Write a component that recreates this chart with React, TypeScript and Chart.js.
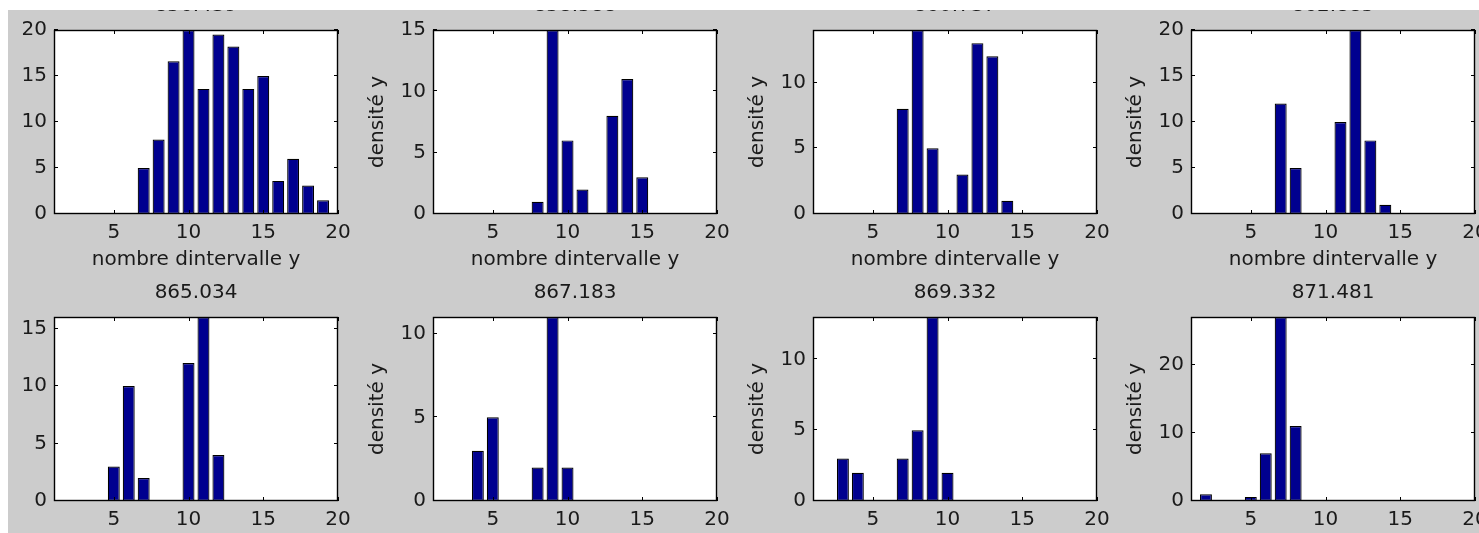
import React, { useEffect, useRef } from 'react';
import { Chart, registerables } from 'chart.js';

Chart.register(...registerables);

// ---------- data ----------
const binCenters = [1, 2, 3, 4, 5, 6, 7, 8, 9, 10, 11, 12, 13, 14, 15, 16, 17, 18, 19, 20];

const panelTitles = ['856.439', '858.588', '860.737', '862.885', '865.034', '867.183', '869.332', '871.481'];

const dens856 = [null, null, null, null, null, null, 5, 8.1, 16.6, 20, 13.6, 19.5, 18.2, 13.6, 15, 3.6, 6, 3.1, 1.5, null];
const dens858 = [null, null, null, null, null, null, null, 1, 15, 6, 2, null, 8, 11, 3, null, null, null, null, null];
const dens860 = [null, null, null, null, null, null, 8, 14, 5, null, 3, 13, 12, 1, null, null, null, null, null, null];
const dens862 = [null, null, null, null, null, null, 12, 5, null, null, 10, 20, 8, 1, null, null, null, null, null, null];
const dens865 = [null, null, null, null, 3, 10, 2, null, null, 12, 16, 4, null, null, null, null, null, null, null, null];
const dens867 = [null, null, null, 3, 5, null, null, 2, 11, 2, null, null, null, null, null, null, null, null, null, null];
const dens869 = [null, null, 3, 2, null, null, 3, 5, 13, 2, null, null, null, null, null, null, null, null, null, null];
const dens871 = [null, 1, null, null, 0.6, 7, 27, 11, null, null, null, null, null, null, null, null, null, null, null, null];

const panelValues = [dens856, dens858, dens860, dens862, dens865, dens867, dens869, dens871];

const yMaxes = [20, 15, 14, 20, 16, 11, 13, 27];
const yTickValues = [
  [0, 5, 10, 15, 20],
  [0, 5, 10, 15],
  [0, 5, 10],
  [0, 5, 10, 15, 20],
  [0, 5, 10, 15],
  [0, 5, 10],
  [0, 5, 10],
  [0, 10, 20],
];
const xTickValues = [5, 10, 15, 20];
const xMin = 1;
const xMax = 20;

const xLabel = 'nombre dintervalle y';
const yLabel = 'densité y';

// ---------- layout / style ----------
const FIG_BG = '#cccccc';
const BAR_FILL = '#00008f';
const TEXT = '#1a1a1a';
const FONT_FAMILY = "'DejaVu Sans', 'Liberation Sans', Arial, sans-serif";
const FONT_SIZE = 20;

const PLOT_W = 284;
const PLOT_H = 184;
const AXIS_Y_W = 75;
const AXIS_X_H = 65;
const TITLE_H = 40;
const RIGHT_PAD = 20;
const COL_LEFT = [46, 425, 805, 1183];
const ROW_TOP = [20, 307];
const CANVAS_W = AXIS_Y_W + PLOT_W + RIGHT_PAD;
const CANVAS_H = TITLE_H + PLOT_H + AXIS_X_H;

const framePlugin = {
  id: 'matlabFrame',
  beforeDraw(chart: any) {
    const { ctx, chartArea: a } = chart;
    ctx.save();
    ctx.fillStyle = '#ffffff';
    ctx.fillRect(a.left, a.top, a.right - a.left, a.bottom - a.top);
    ctx.restore();
  },
  afterDatasetsDraw(chart: any) {
    const { ctx, chartArea: a, scales } = chart;
    const L = 4;
    ctx.save();
    ctx.strokeStyle = '#000000';
    ctx.lineWidth = 1;
    ctx.beginPath();
    scales.x.ticks.forEach((t: any) => {
      const px = Math.round(scales.x.getPixelForValue(t.value)) + 0.5;
      ctx.moveTo(px, a.bottom);
      ctx.lineTo(px, a.bottom - L);
      ctx.moveTo(px, a.top);
      ctx.lineTo(px, a.top + L);
    });
    scales.y.ticks.forEach((t: any) => {
      const py = Math.round(scales.y.getPixelForValue(t.value)) - 0.5;
      ctx.moveTo(a.left, py);
      ctx.lineTo(a.left + L, py);
      ctx.moveTo(a.right, py);
      ctx.lineTo(a.right - L, py);
    });
    ctx.stroke();
    ctx.lineWidth = 1.4;
    ctx.strokeRect(a.left + 0.5, a.top + 0.5, a.right - a.left - 1, a.bottom - a.top - 1);
    ctx.restore();
  },
};

function Panel({ index }: { index: number }) {
  const ref = useRef<HTMLCanvasElement>(null);
  const col = index % 4;
  const row = Math.floor(index / 4);

  useEffect(() => {
    if (!ref.current) return;
    const values = panelValues[index];
    const points = binCenters
      .map((x, i) => ({ x, y: values[i] }))
      .filter((p) => p.y !== null);
    const font = { family: FONT_FAMILY, size: FONT_SIZE, weight: 'normal' as const };

    const chart = new Chart(ref.current, {
      type: 'bar',
      data: {
        datasets: [
          {
            data: points as any,
            backgroundColor: BAR_FILL,
            borderColor: '#000000',
            borderWidth: 1.2,
            borderSkipped: false,
            barPercentage: 0.8,
            categoryPercentage: 1,
          },
        ],
      },
      options: {
        responsive: false,
        animation: false,
        events: [],
        layout: { padding: { left: 0, top: 0, right: RIGHT_PAD, bottom: 0 } },
        plugins: {
          legend: { display: false },
          tooltip: { enabled: false },
          title: {
            display: true,
            fullSize: false,
            text: panelTitles[index],
            color: TEXT,
            font,
            padding: { top: 3.5, bottom: 12.5 },
          },
        },
        scales: {
          x: {
            type: 'linear',
            min: xMin,
            max: xMax,
            offset: false,
            grid: { display: false, drawTicks: false },
            border: { display: false },
            ticks: { color: TEXT, font, padding: 6.5, maxRotation: 0, autoSkip: false },
            title: { display: true, text: xLabel, color: TEXT, font, padding: { top: 0, bottom: 7 } },
            afterBuildTicks: (s: any) => {
              s.ticks = xTickValues.map((v) => ({ value: v }));
            },
            afterFit: (s: any) => {
              s.height = AXIS_X_H;
            },
          },
          y: {
            type: 'linear',
            min: 0,
            max: yMaxes[index],
            grid: { display: false, drawTicks: false },
            border: { display: false },
            ticks: { color: TEXT, font, padding: 7, autoSkip: false },
            title: { display: true, text: yLabel, color: TEXT, font, padding: { top: 8, bottom: 0 } },
            afterBuildTicks: (s: any) => {
              s.ticks = yTickValues[index].map((v) => ({ value: v }));
            },
            afterFit: (s: any) => {
              s.width = AXIS_Y_W;
            },
          },
        },
      },
      plugins: [framePlugin],
    } as any);
    return () => chart.destroy();
  }, [index]);

  return (
    <canvas
      ref={ref}
      width={CANVAS_W}
      height={CANVAS_H}
      style={{
        position: 'absolute',
        left: COL_LEFT[col] - AXIS_Y_W,
        top: ROW_TOP[row] - TITLE_H,
        width: CANVAS_W,
        height: CANVAS_H,
      }}
    />
  );
}

export default function App() {
  return (
    <div
      style={{
        position: 'fixed',
        left: 8,
        top: 10,
        width: 1471,
        height: 523,
        overflow: 'hidden',
        background: FIG_BG,
      }}
    >
      {panelTitles.map((_, i) => (
        <Panel key={i} index={i} />
      ))}
    </div>
  );
}
